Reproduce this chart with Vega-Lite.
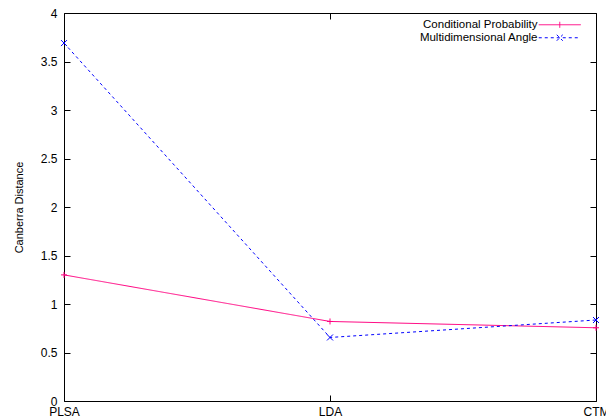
{
  "$schema": "https://vega.github.io/schema/vega-lite/v6.json",
  "width": 532,
  "height": 388,
  "autosize": {"type": "none"},
  "padding": {"left": 64, "top": 13, "right": 10, "bottom": 18},
  "background": "white",
  "config": {
    "view": {"stroke": "black", "strokeWidth": 1},
    "font": "Liberation Sans",
    "axis": {"labelFont": "Liberation Sans", "titleFont": "Liberation Sans", "labelColor": "black", "titleColor": "black", "tickColor": "black", "domain": false, "grid": false, "tickWidth": 1}
  },
  "data": {
    "values": [
      {"model": "PLSA", "series": "Conditional Probability", "value": 1.30},
      {"model": "LDA", "series": "Conditional Probability", "value": 0.82},
      {"model": "CTM", "series": "Conditional Probability", "value": 0.755},
      {"model": "PLSA", "series": "Multidimensional Angle", "value": 3.69},
      {"model": "LDA", "series": "Multidimensional Angle", "value": 0.655},
      {"model": "CTM", "series": "Multidimensional Angle", "value": 0.835}
    ]
  },
  "layer": [
    {
      "mark": {"type": "line", "strokeWidth": 1},
      "encoding": {
        "x": {"field": "model", "type": "ordinal", "sort": ["PLSA", "LDA", "CTM"], "scale": {"type": "point", "padding": 0},
          "axis": {"orient": "bottom", "title": null, "labelAngle": 0, "tickSize": -6, "labelPadding": 11, "labelFontSize": 12}},
        "y": {"field": "value", "type": "quantitative", "scale": {"domain": [0, 4], "nice": false},
          "axis": {"orient": "left", "title": "Canberra Distance", "titleFontSize": 11, "titleFontWeight": "normal", "titlePadding": 16, "values": [0, 0.5, 1, 1.5, 2, 2.5, 3, 3.5, 4], "format": "~g", "tickSize": -6, "labelPadding": 13, "labelFontSize": 12}},
        "color": {"field": "series", "type": "nominal",
          "scale": {"domain": ["Conditional Probability", "Multidimensional Angle"], "range": ["#ff0080", "#0000ff"]},
          "legend": {
            "orient": "none", "legendX": 490, "legendY": 6, "title": null, "labelFontSize": 11.5, "labelAlign": "right", "labelOffset": -28,
            "symbolSize": 64, "symbolStrokeWidth": 1, "rowPadding": 0, "padding": 0,
            "encode": {"symbols": {"update": {
              "shape": {"signal": "datum.value === 'Conditional Probability' ? 'M-5.25,0H5.25M0,-0.75V0.75' : 'M-5.25,0H5.25M-0.75,-0.75L0.75,0.75M-0.75,0.75L0.75,-0.75'"},
              "strokeDash": {"signal": "datum.value === 'Conditional Probability' ? [1,0] : [3,3]"},
              "fill": {"value": "transparent"},
              "stroke": {"scale": "color", "field": "value"}
            }}}
          }},
        "strokeDash": {"field": "series", "type": "nominal", "scale": {"domain": ["Conditional Probability", "Multidimensional Angle"], "range": [[1, 0], [3, 3]]}, "legend": null}
      }
    },
    {
      "transform": [{"filter": "datum.series === 'Conditional Probability'"}],
      "mark": {"type": "point", "filled": false, "strokeWidth": 1, "size": 36, "opacity": 1, "color": "#ff0080", "shape": "M-1,0H1M0,-1V1"},
      "encoding": {
        "x": {"field": "model", "type": "ordinal", "sort": ["PLSA", "LDA", "CTM"], "axis": null},
        "y": {"field": "value", "type": "quantitative", "axis": null}
      }
    },
    {
      "transform": [{"filter": "datum.series === 'Multidimensional Angle'"}],
      "mark": {"type": "point", "filled": false, "strokeWidth": 1, "size": 36, "opacity": 1, "color": "#0000ff", "shape": "M-1,-1L1,1M-1,1L1,-1"},
      "encoding": {
        "x": {"field": "model", "type": "ordinal", "sort": ["PLSA", "LDA", "CTM"], "axis": null},
        "y": {"field": "value", "type": "quantitative", "axis": null}
      }
    },
    {
      "mark": {"type": "point", "opacity": 0},
      "encoding": {
        "x": {"field": "model", "type": "ordinal", "sort": ["PLSA", "LDA", "CTM"],
          "axis": {"orient": "top", "title": null, "labels": false, "tickSize": -6}},
        "y": {"field": "value", "type": "quantitative",
          "axis": {"orient": "right", "title": null, "labels": false, "values": [0, 0.5, 1, 1.5, 2, 2.5, 3, 3.5, 4], "tickSize": -6}}
      }
    }
  ],
  "resolve": {"axis": {"x": "independent", "y": "independent"}}
}
